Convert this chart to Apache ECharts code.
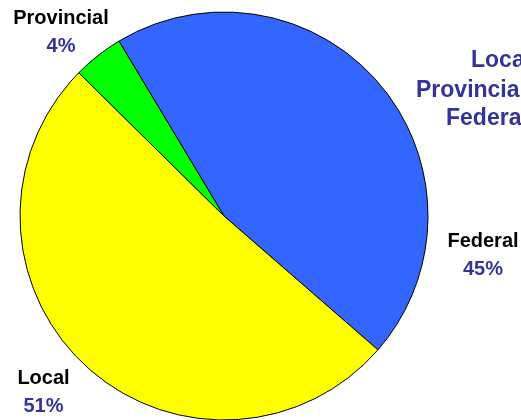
<!DOCTYPE html>
<html>
<head>
<meta charset="utf-8">
<script src="https://cdn.jsdelivr.net/npm/echarts@6/dist/echarts.min.js"></script>
<style>
	html,body{margin:0;padding:0;background:#fff}
	#chart{width:521px;height:420px}
</style>
</head>
<body>
<div id="chart"></div>
<script>
	// share of spending by level of government (percent)
	var levels = ['Federal', 'Local', 'Provincial'];
	var shares = [45, 51, 4];
	var legendOrder = ['Local', 'Provincial', 'Federal'];

	var textFont = 'Arial, "Liberation Sans", sans-serif';

	// label spots, by data index (Federal, Local, Provincial)
	var labelSpots = [[483, 255], [43.5, 392], [61, 32.5]];

	function legendItem(name, left, top){
		return {
			data: [name],
			left: left,
			top: top,
			orient: 'vertical',
			padding: 0,
			icon: 'none',
			itemWidth: 0,
			itemHeight: 0,
			selectedMode: false,
			textStyle: {
				fontFamily: textFont,
				fontSize: 23,
				fontWeight: 'bold',
				color: '#333399'
			}
		};
	}

	var chart = echarts.init(document.getElementById('chart'));
	chart.setOption({
		animation: false,
		color: ['#3366FF', '#FFFF00', '#00FF00'],
		legend: [
			legendItem(legendOrder[0], 466, 49),
			legendItem(legendOrder[1], 411, 79),
			legendItem(legendOrder[2], 441, 107)
		],
		series: [{
			type: 'pie',
			center: [224, 216],
			radius: 204,
			startAngle: 121,
			clockwise: true,
			itemStyle: {
				borderColor: '#000',
				borderWidth: 1
			},
			emphasis: {disabled: true},
			label: {
				show: true,
				position: 'outside',
				overflow: 'none',
				formatter: '{n|{b}}\n{p|{c}%}',
				rich: {
					n: {fontFamily: textFont, fontSize: 20, fontWeight: 'bold', color: '#000', lineHeight: 28, align: 'center'},
					p: {fontFamily: textFont, fontSize: 20, fontWeight: 'bold', color: '#333399', lineHeight: 28, align: 'center'}
				}
			},
			labelLine: {show: false},
			labelLayout: function(params){
				var spot = labelSpots[params.dataIndex];
				return {x: spot[0], y: spot[1], align: 'center', verticalAlign: 'middle'};
			},
			data: levels.map(function(name, i){
				return {name: name, value: shares[i]};
			})
		}]
	});
</script>
</body>
</html>
